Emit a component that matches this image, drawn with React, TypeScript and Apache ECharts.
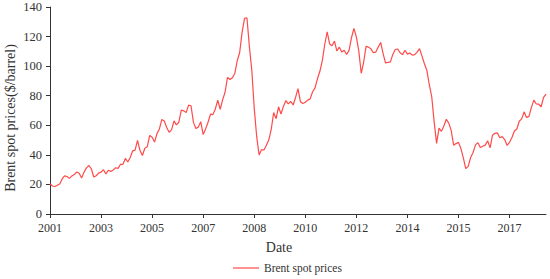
import React, { useEffect, useRef } from 'react';
import * as echarts from 'echarts';

// Monthly Brent spot prices ($/barrel), Oct 2001 – Oct 2018
const startYear = 2001;
const startMonth = 10;
const p2001 = [20.48, 18.94, 18.6];
const p2002 = [19.48, 20.29, 23.69, 25.73, 25.35, 24.08, 25.74, 26.65, 28.4, 27.54, 24.34, 28.33];
const p2003 = [31.18, 32.77, 30.61, 25.0, 25.86, 27.65, 28.35, 29.89, 27.11, 29.61, 28.75, 29.81];
const p2004 = [31.28, 30.86, 33.63, 33.59, 37.57, 35.18, 38.22, 42.74, 43.2, 49.78, 43.11, 39.6];
const p2005 = [44.51, 45.48, 53.1, 51.88, 48.65, 54.35, 57.52, 63.98, 62.91, 58.54, 55.24, 56.86];
const p2006 = [62.99, 60.21, 62.06, 70.26, 69.78, 68.56, 73.67, 73.23, 61.96, 57.81, 58.76, 62.47];
const p2007 = [53.68, 57.56, 62.05, 67.49, 67.21, 71.05, 76.93, 70.76, 77.17, 82.34, 92.41, 90.93];
const p2008 = [92.18, 94.99, 103.64, 109.07, 122.8, 132.32, 132.72, 113.24, 97.23, 71.58, 52.45, 39.95];
const p2009 = [43.44, 43.32, 46.54, 50.18, 57.3, 68.61, 64.44, 72.51, 67.65, 72.77, 76.66, 74.46];
const p2010 = [76.17, 73.75, 78.83, 84.82, 75.95, 74.76, 75.58, 77.04, 77.84, 82.67, 85.28, 91.45];
const p2011 = [96.52, 103.72, 114.64, 123.26, 114.99, 113.83, 116.97, 110.22, 112.83, 109.55, 110.77, 107.87];
const p2012 = [110.69, 119.33, 125.45, 119.75, 110.34, 95.16, 102.62, 113.36, 112.86, 111.71, 109.06, 109.49];
const p2013 = [112.96, 116.05, 108.47, 102.25, 102.56, 102.92, 107.93, 111.28, 111.6, 109.08, 107.79, 110.76];
const p2014 = [108.12, 108.9, 107.48, 107.76, 109.54, 111.8, 106.77, 101.61, 97.09, 87.43, 79.44, 62.34];
const p2015 = [47.76, 58.1, 55.89, 59.52, 64.08, 61.48, 56.56, 46.52, 47.62, 48.43, 44.27, 38.01];
const p2016 = [30.7, 32.18, 38.21, 41.58, 46.74, 48.25, 44.95, 45.84, 46.57, 49.52, 44.73, 53.31];
const p2017 = [54.58, 54.87, 51.59, 52.31, 50.33, 46.37, 48.48, 51.7, 56.15, 57.51, 62.71, 64.37];
const p2018 = [69.08, 65.32, 66.02, 72.11, 76.98, 74.41, 74.25, 72.53, 78.89, 81.03];

const prices = [
  ...p2001, ...p2002, ...p2003, ...p2004, ...p2005, ...p2006, ...p2007, ...p2008, ...p2009,
  ...p2010, ...p2011, ...p2012, ...p2013, ...p2014, ...p2015, ...p2016, ...p2017, ...p2018,
];

const categories = prices.map((_, i) => {
  const m = startMonth - 1 + i;
  return `${startYear + Math.floor(m / 12)}-${String((m % 12) + 1).padStart(2, '0')}`;
});

const labelEvery = 21;
const seriesName = 'Brent spot prices';
const yTitle = 'Brent spot prices($/barrel)';
const FONT = '"Liberation Serif", "Times New Roman", serif';
const TEXT = '#333';
const LINE = '#ff4a4a';

export default function App() {
  const ref = useRef<HTMLDivElement>(null);
  useEffect(() => {
    document.body.style.margin = '0';
    const chart = echarts.init(ref.current!, null, { renderer: 'svg' });
    chart.setOption({
      animation: false,
      textStyle: { fontFamily: FONT },
      grid: { left: 50, right: 4, top: 7, bottom: 65, containLabel: false, outerBoundsMode: 'none' },
      graphic: [
        {
          type: 'text',
          x: 10,
          y: 118,
          rotation: Math.PI / 2,
          style: {
            text: yTitle,
            fontFamily: FONT,
            fontSize: 14,
            fill: TEXT,
            align: 'center',
            verticalAlign: 'middle',
          },
        },
      ],
      legend: {
        data: [{ name: seriesName, icon: 'rect' }],
        left: 233,
        top: 262,
        padding: 0,
        itemWidth: 26,
        itemHeight: 1.2,
        itemGap: 10,
        textStyle: { fontFamily: FONT, fontSize: 11.5, color: TEXT },
      },
      xAxis: {
        type: 'category',
        data: categories,
        boundaryGap: false,
        name: 'Date',
        nameLocation: 'middle',
        nameGap: 26,
        nameTextStyle: { fontFamily: FONT, fontSize: 14, color: TEXT, padding: [0, 38, 0, 0] },
        axisLine: { lineStyle: { color: TEXT, width: 1 } },
        axisTick: { interval: labelEvery - 1, length: 4, lineStyle: { color: TEXT } },
        axisLabel: {
          interval: labelEvery - 1,
          margin: 8,
          fontFamily: FONT,
          fontSize: 12,
          color: TEXT,
          formatter: (v: string) => v.slice(0, 4),
        },
        splitLine: { show: false },
      },
      yAxis: {
        type: 'value',
        min: 0,
        max: 140,
        interval: 20,
        axisLine: { show: true, lineStyle: { color: TEXT, width: 1 } },
        axisTick: { show: true, length: 4, lineStyle: { color: TEXT } },
        axisLabel: { margin: 8, fontFamily: FONT, fontSize: 12.5, color: TEXT },
        splitLine: { show: false },
      },
      series: [
        {
          name: seriesName,
          type: 'line',
          data: prices,
          symbol: 'none',
          smooth: false,
          lineStyle: { color: LINE, width: 1.2 },
          itemStyle: { color: LINE },
        },
      ],
    });
    return () => chart.dispose();
  }, []);
  return <div ref={ref} style={{ width: 550, height: 279 }} />;
}
